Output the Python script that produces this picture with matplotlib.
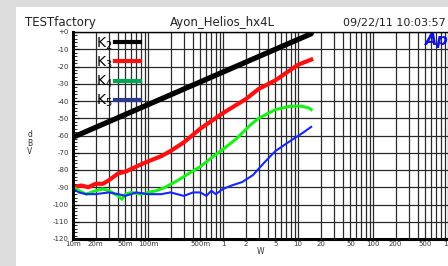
import numpy as np
import matplotlib
matplotlib.use("Agg")
from matplotlib import pyplot as plt
from matplotlib.lines import Line2D
from matplotlib.ticker import FixedLocator, NullFormatter, MultipleLocator

plt.rcParams['font.family'] = ['DejaVu Sans']

# output power (W) and distortion harmonics (dBV)
k2_w = [0.01, 15]
k2_db = [-61, -1]

k3_w = [0.01, 0.013, 0.016, 0.02, 0.025, 0.03, 0.04, 0.05, 0.07, 0.1, 0.15, 0.2,
        0.3, 0.5, 1, 2, 3, 5, 10, 15]
k3_db = [-90, -89, -90, -88, -88, -86, -82, -81, -78, -75, -72, -69,
         -64, -56, -47, -39, -33, -28, -19, -16]

k4_w = [0.01, 0.012, 0.015, 0.02, 0.025, 0.03, 0.04, 0.045, 0.05, 0.06, 0.08,
        0.1, 0.13, 0.17, 0.25, 0.35, 0.5, 0.7, 1, 1.5, 2.3, 3, 5, 8, 11, 14, 15]
k4_db = [-90, -92, -94, -92, -91, -92, -95, -97, -94, -93, -94,
         -93, -92, -90, -86, -82, -78, -73, -68, -62, -54, -50, -45, -43, -43, -44, -45]

k5_w = [0.01, 0.012, 0.015, 0.02, 0.03, 0.04, 0.05, 0.07, 0.1, 0.15, 0.2, 0.3,
        0.4, 0.5, 0.6, 0.7, 0.8, 1, 1.3, 1.8, 2.5, 3.5, 5, 8, 12, 15]
k5_db = [-91, -93, -94, -94, -93, -94, -95, -93, -94, -94, -93, -95,
         -93, -93, -95, -92, -94, -91, -89, -87, -83, -76, -69, -63, -58, -55]

x_ticks = [0.01, 0.02, 0.05, 0.1, 0.5, 1, 2, 5, 10, 20, 50, 100, 200, 500, 1000]
x_labels = ['10m', '20m', '50m', '100m', '500m', '1', '2', '5', '10', '20', '50',
            '100', '200', '500', '1k']
y_ticks = list(range(0, -121, -10))
y_labels = ['+0'] + [str(v) for v in y_ticks[1:]]

fig = plt.figure(figsize=(4.48, 2.66), dpi=100, facecolor='#dcdcdc')
fig.patches.append(plt.Rectangle((16 / 448, 0), 1, 1 - 7 / 266, transform=fig.transFigure,
                                 facecolor='white', edgecolor='none', zorder=-10))

ax = fig.add_axes([73 / 448, 27 / 266, 375 / 448, 207 / 266])
ax.set_xscale('log')
ax.set_xlim(0.01, 1000)
ax.set_ylim(-120, 0)

# grid at every log step and every 10 dB
minor_x = [m * 10.0 ** e for e in range(-2, 3) for m in range(1, 10)]
ax.xaxis.set_minor_locator(FixedLocator(minor_x))
ax.xaxis.set_minor_formatter(NullFormatter())
ax.set_xticks(x_ticks)
ax.set_xticklabels(x_labels)
ax.grid(True, which='both', axis='x', color='#2a2a2a', lw=0.9)
ax.set_yticks(y_ticks)
ax.set_yticklabels(y_labels)
ax.yaxis.set_minor_locator(MultipleLocator(2))
ax.grid(True, which='major', axis='y', color='#2a2a2a', lw=0.9)
ax.set_axisbelow(True)

ax.tick_params(axis='x', which='both', length=0, labelsize=5, pad=1.5, labelcolor='#333333')
ax.tick_params(axis='y', which='major', direction='in', length=4, width=0.8,
               labelsize=5, pad=3, labelcolor='#333333')
ax.tick_params(axis='y', which='minor', direction='in', length=3, width=0.6)

for side in ['left', 'bottom']:
    ax.spines[side].set_linewidth(2.2)
ax.spines['top'].set_linewidth(1.0)
ax.spines['right'].set_visible(False)

ax.plot(k2_w, k2_db, color='black', lw=3.8, solid_capstyle='round')
ax.plot(k3_w, k3_db, color='#ff1010', lw=3.0)
ax.plot(k4_w, k4_db, color='#18f018', lw=2.2)
ax.plot(k5_w, k5_db, color='#1428ff', lw=1.5)

handles = [Line2D([], [], color=c, lw=3) for c in ['black', '#ff1010', '#00a651', '#2b3990']]
labels = [r'$\mathregular{K_%d}$' % n for n in (2, 3, 4, 5)]
ax.legend(handles, labels, markerfirst=False, loc='upper left',
          bbox_to_anchor=(0.061, 0.985), frameon=False, fontsize=10,
          handlelength=1.8, handletextpad=0.2, labelspacing=0.2, borderpad=0,
          borderaxespad=0)

fig.text(25 / 448, 1 - 26 / 266, 'TESTfactory', fontsize=8.5, color='#222222')
fig.text(222 / 448, 1 - 26 / 266, 'Ayon_Helios_hx4L', fontsize=8.5, color='#222222', ha='center')
fig.text(343 / 448, 1 - 26 / 266, '09/22/11 10:03:57', fontsize=8, color='#222222')
fig.text(436 / 448, 1 - 45 / 266, 'Ap', fontsize=11.5, color='#1010e8',
         fontweight='bold', style='italic', ha='center')
fig.text(30 / 448, 1 - 143 / 266, 'd\nB\nV', fontsize=5.5, color='#333333',
         ha='center', va='center', linespacing=0.9)
fig.text(260 / 448, 1 - 252 / 266, 'W', fontsize=5.5, color='#333333', ha='center', va='center')

fig.savefig('out.png', dpi=100, facecolor=fig.get_facecolor())
